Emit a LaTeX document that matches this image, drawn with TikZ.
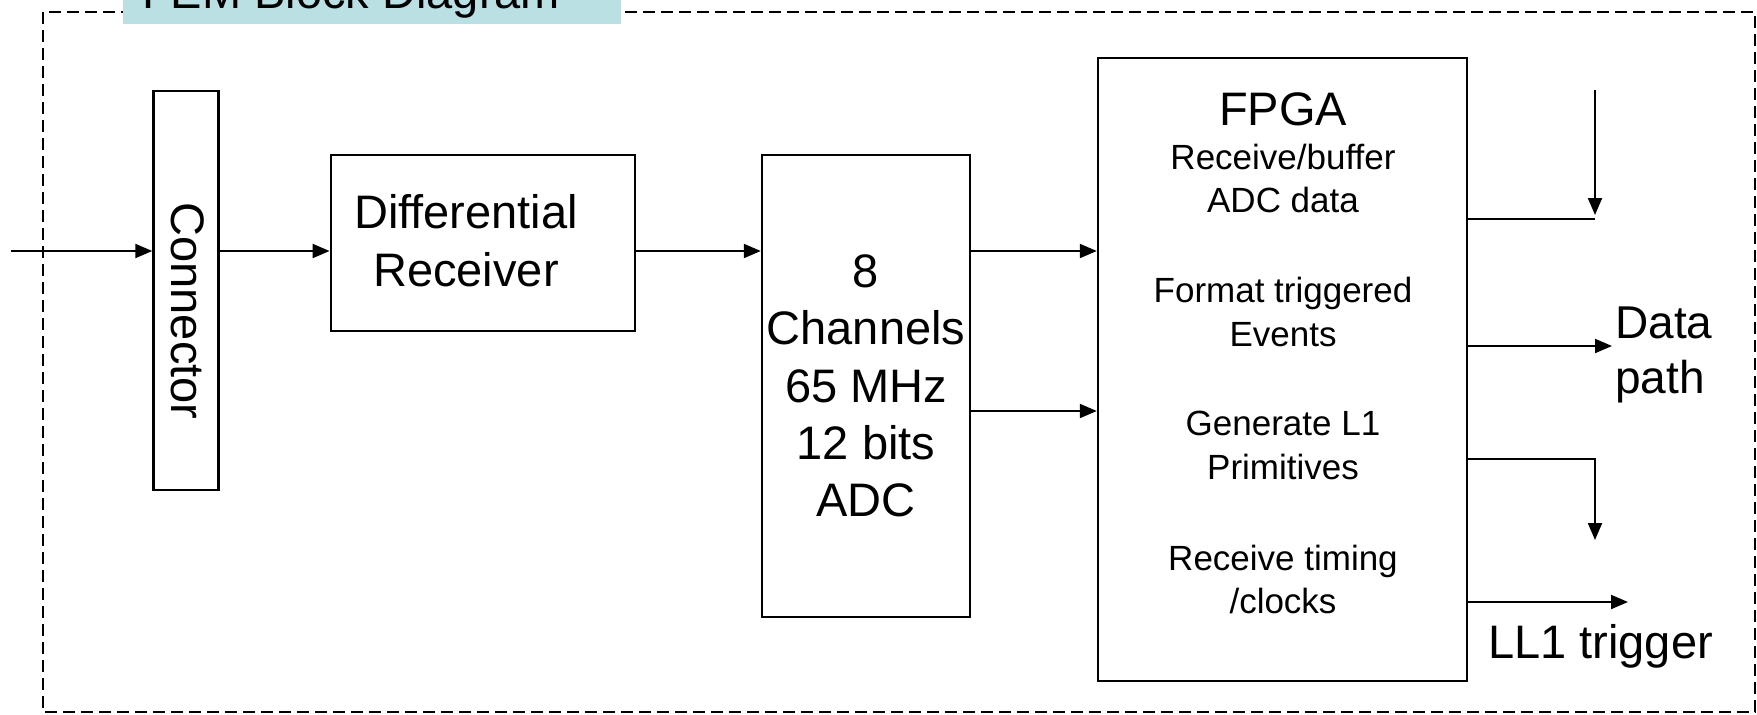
\documentclass[tikz,border=0pt]{standalone}
\usepackage{fontspec}
\setmainfont{Liberation Sans}
\usetikzlibrary{arrows.meta}
\definecolor{titlebg}{HTML}{BAE0E3}
\begin{document}
\begin{tikzpicture}[x=1pt,y=-1pt,
  box/.style={draw, line width=2.4pt, inner sep=0pt},
  conn/.style={line width=2pt, -{Triangle[length=17pt,width=14pt]}},
  wire/.style={line width=2pt},
  frame/.style={line width=2.2pt, dash pattern=on 12pt off 6pt},
  big/.style={font=\fontsize{47}{57.4}\selectfont, inner sep=0pt},
  lab/.style={font=\fontsize{46}{55}\selectfont, inner sep=0pt},
  small/.style={font=\fontsize{35}{43.5}\selectfont, inner sep=0pt}]
\useasboundingbox (0,0) rectangle (1757,715);
\clip (0,0) rectangle (1757,715);
% frame and title
\draw[frame] (43,12) rectangle (1755,712);
\fill[titlebg] (123,-10) rectangle (621,24);
\node[big, anchor=base west] (title) at (142,8) {FEM Block Diagram};
% blocks
\node[box, minimum width=65pt, minimum height=399pt] (con) at (186,290.5) {};
\node[big, rotate=-90] (contxt) at (188,311) {Connector};
\node[box, minimum width=304.5pt, minimum height=175.5pt] (dr) at (483,243) {};
\node[big, align=center, anchor=base] (drtxt) at (466,286) {Differential\\Receiver};
\node[box, minimum width=208pt, minimum height=462pt, big, align=center] (adc) at (866,386) {8\\Channels\\65 MHz\\12 bits\\ADC};
\node[box, minimum width=369pt, minimum height=623pt] (fpga) at (1282.5,369.5) {};
\node[big, anchor=base] (fpgatxt) at (1283,125) {FPGA};
\node[small, align=center, anchor=base] (f1) at (1283,212.5) {Receive/buffer\\ADC data};
\node[small, align=center, anchor=base] (f2) at (1283,346) {Format triggered\\Events};
\node[small, align=center, anchor=base] (f3) at (1283,479) {Generate L1\\Primitives};
\node[small, align=center, anchor=base] (f4) at (1283,613.5) {Receive timing\\/clocks};
% coordinates
\coordinate (in) at (11,251);
\coordinate (m2) at (0,411);
\coordinate (o1) at (1595,219);
\coordinate (d1s) at (1595,90);
\coordinate (d1e) at (1595,215);
\coordinate (o2) at (1612,346);
\coordinate (o3) at (1595,459);
\coordinate (d3e) at (1595,540);
\coordinate (o4) at (1628,602);
% connectors
\draw[conn] (in) -- (in -| con.west);
\draw[conn] (con.east |- in) -- (dr.west |- in);
\draw[conn] (dr.east |- in) -- (adc.west |- in);
\draw[conn] (adc.east |- in) -- (fpga.west |- in);
\draw[conn] (adc.east |- m2) -- (fpga.west |- m2);
\draw[wire] (fpga.east |- o1) -- (o1);
\draw[conn] (d1s) -- (d1e);
\draw[conn] (fpga.east |- o2) -- (o2);
\draw[conn] (fpga.east |- o3) -- (o3) -- (d3e);
\draw[conn] (fpga.east |- o4) -- (o4);
% labels
\node[lab, align=left, anchor=base west] (dp) at (1615,393) {Data\\path};
\node[big, anchor=base west] (ll1) at (1488,658) {LL1 trigger};
\end{tikzpicture}
\end{document}
